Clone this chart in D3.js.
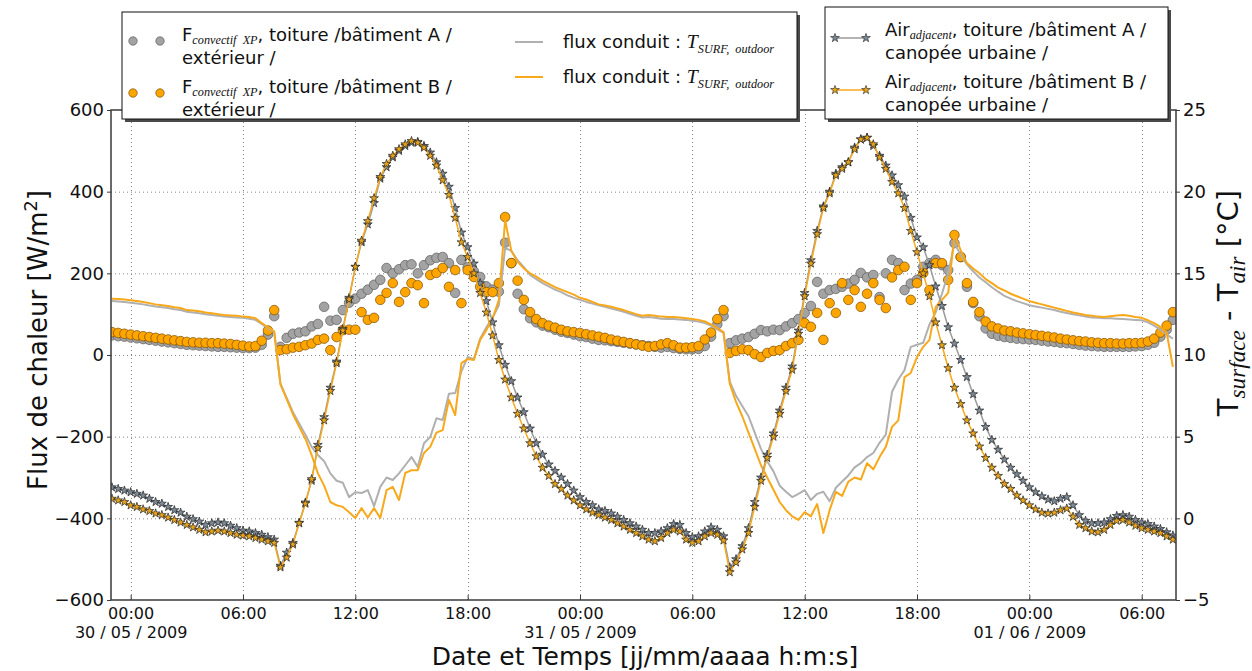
<!DOCTYPE html>
<html>
<head>
<meta charset="utf-8">
<script src="https://cdn.jsdelivr.net/npm/d3@7"></script>
<style>
  body { margin: 0; background: #fff; }
  text { font-family: "DejaVu Sans", sans-serif; fill: #111; white-space: pre; }
  .math { font-family: "Liberation Serif", serif; font-style: italic; }
</style>
</head>
<body>
<svg id="chart" width="1252" height="671"></svg>
<script>
// samples every 20 min, first one 29/05/2009 23:00
const startTime = new Date(2009, 4, 29, 23, 0);
const stepMinutes = 20;

// F convectif XP, bâtiment A (W/m2)
const circA = [
  48, 46, 45, 43, 41, 39, 37, 35, 33, 31, 29, 27, 25, 24, 23, 22, 21, 20, 20, 19, 18, 17, 17, 18,
  25, 50, 95, 20, 42, 52, 55, 58, 70, 76, 118, 84, 86, 110, 128, 138, 150, 160, 172, 184, 213,
  200, 210, 220, 222, 200, 220, 232, 238, 240, 225, 152, 233, 215, 205, 191, 168, 160, 155,
  275, 225, 150, 112, 90, 80, 72, 68, 62, 57, 54, 50, 46, 44, 40, 37, 36, 34, 32, 30, 28,
  26, 24, 22, 20, 18, 20, 17, 15, 14, 14, 15, 22, 45, 75, 95, 29, 36, 40, 44, 52, 61,
  58, 62, 61, 70, 78, 88, 103, 120, 179, 150, 159, 162, 167, 175, 184, 201, 190, 196,
  142, 200, 233, 225, 159, 175, 184, 216, 225, 233, 220, 208, 274, 240, 167, 127, 95, 65,
  52, 47, 44, 42, 40, 39, 38, 37, 35, 33, 32, 30, 29, 27, 25, 23, 22, 21, 20, 20, 20,
  20, 20, 21, 22, 25, 30, 45, 62, 86
];
// F convectif XP, bâtiment B (W/m2)
const circB = [
  56, 54, 52, 50, 48, 46, 44, 42, 40, 38, 36, 34, 32, 31, 30, 30, 29, 29, 28, 27, 25, 23, 21, 22,
  35, 60, 110, 12, 14, 18, 20, 24, 28, 37, 40, 12, 44, 61, 62, 62, 105, 86, 91, 135, 152,
  176, 130, 154, 176, 171, 127, 196, 201, 213, 167, 208, 127, 208, 191, 167, 154, 154, 176,
  338, 225, 182, 135, 105, 88, 78, 72, 67, 62, 58, 56, 54, 51, 48, 45, 42, 38, 35, 32, 29,
  26, 23, 20, 22, 26, 29, 24, 18, 18, 19, 22, 38, 55, 88, 110, 5, 10, 14, 12, 2, -5,
  5, 10, 12, 22, 29, 37, 78, 69, 103, 37, 127, 103, 176, 135, 159, 118, 150, 176,
  135, 115, 190, 208, 216, 135, 176, 201, 159, 225, 225, 184, 294, 240, 176, 130, 105, 82,
  70, 65, 60, 58, 55, 53, 51, 49, 47, 45, 43, 40, 38, 36, 34, 33, 31, 30, 29, 29, 28,
  28, 29, 29, 30, 33, 40, 55, 72, 105
];
// flux conduit, bâtiment A (W/m2)
const condA = [
  132, 131, 130, 128, 126, 124, 121, 119, 117, 115, 112, 110, 106, 104, 102, 100, 98, 96,
  94, 93, 92, 91, 89, 86, 76, 66, 56, -70, -105, -140, -168, -195, -225, -245, -260, -290,
  -308, -313, -348, -336, -338, -331, -370, -323, -300, -306, -290, -270, -250, -274, -216,
  -201, -155, -159, -95, -93, -40, -5, -10, 40, 68, 92, 122, 262, 255, 232, 215, 196, 186,
  176, 168, 160, 154, 146, 140, 135, 130, 126, 122, 118, 114, 110, 106, 101, 96, 92, 93,
  91, 89, 88, 88, 87, 86, 84, 82, 78, 72, 63, 54, -65, -100, -125, -150, -190, -230,
  -260, -285, -320, -335, -348, -340, -331, -355, -340, -335, -358, -325, -310, -295, -275,
  -265, -250, -240, -215, -195, -90, -60, -37, 20, 25, 30, 75, 105, 150, 200, 274, 245, 222,
  205, 190, 178, 166, 155, 145, 138, 132, 127, 122, 119, 116, 113, 110, 106, 103, 100, 97,
  94, 92, 91, 90, 90, 89, 88, 87, 86, 85, 80, 72, 62, 50, 40
];
// flux conduit, bâtiment B (W/m2)
const condB = [
  138, 137, 136, 134, 132, 130, 127, 124, 122, 120, 117, 115, 110, 109, 107, 104, 102, 100,
  98, 97, 96, 94, 93, 90, 78, 68, 58, -72, -108, -145, -176, -205, -245, -290, -320, -360,
  -368, -372, -385, -399, -375, -398, -375, -399, -331, -323, -355, -289, -282, -282, -240,
  -225, -190, -184, -110, -147, -20, -10, -12, 37, 61, 90, 135, 330, 255, 228, 212, 200, 192,
  182, 174, 166, 160, 154, 148, 140, 136, 130, 124, 121, 118, 114, 110, 105, 100, 96, 98,
  96, 94, 93, 93, 92, 90, 88, 86, 82, 75, 66, 56, -70, -115, -150, -190, -230, -270,
  -300, -330, -360, -380, -395, -404, -385, -395, -365, -436, -380, -335, -345, -310, -300,
  -305, -265, -280, -250, -225, -176, -160, -54, -44, -5, 20, 37, 118, 135, 152, 294, 257, 225,
  212, 200, 186, 176, 165, 158, 150, 144, 138, 132, 128, 124, 120, 116, 112, 108, 104, 101,
  98, 96, 94, 93, 95, 97, 98, 96, 93, 91, 85, 78, 69, 55, -29
];
// air adjacent, bâtiment A (°C, axe de droite)
const airA = [
  1.9, 1.8, 1.7, 1.6, 1.5, 1.4, 1.2, 1.0, 0.9, 0.7, 0.5, 0.35, 0.1, -0.05, -0.2,
  -0.4, -0.3, -0.25, -0.3, -0.45, -0.6, -0.75, -0.8, -0.9, -1.0, -1.15, -1.3,
  -2.9, -2.1, -1.5, -0.27, 0.97, 2.3, 4.5, 6.2, 8.0, 9.6, 11.6, 13.5, 15.4, 16.9, 18.0,
  19.3, 20.8, 21.5, 22.1, 22.5, 22.8, 23.0, 23.05, 22.8, 22.4, 21.8, 21.1, 20.3, 19.0, 17.5,
  16.6, 15.6, 14.4, 13.3, 12.0, 10.6, 9.4, 8.4, 7.4, 6.5, 5.5, 4.6, 3.9, 3.3, 2.9,
  2.5, 2.1, 1.7, 1.3, 1.0, 0.8, 0.55, 0.45, 0.3, 0.1, -0.1, -0.3, -0.5, -0.7, -0.9,
  -0.9, -0.8, -0.6, -0.35, -0.4, -0.9, -1.15, -1.1, -0.8, -0.55, -0.7, -1.1,
  -3.0, -2.5, -1.7, -0.6, 1.0, 2.5, 3.9, 5.2, 6.6, 8.0, 9.3, 11.5, 13.8, 15.8, 17.6,
  19.1, 20.0, 21.1, 21.5, 21.8, 22.7, 23.2, 23.3, 22.8, 22.2, 21.6, 21.0, 20.4, 19.7, 18.4,
  17.2, 16.6, 15.5, 14.2, 13.0, 11.7, 10.7, 9.7, 8.65, 7.6, 6.6, 5.6, 4.8, 4.2, 3.6,
  3.1, 2.7, 2.3, 1.9, 1.6, 1.35, 1.15, 1.05, 1.2, 1.3, 0.8, 0.2, -0.15, -0.3, -0.3,
  -0.25, -0.05, 0.15, 0.2, 0.1, -0.1, -0.25, -0.35, -0.5, -0.65, -0.85, -1.05
];
// air adjacent, bâtiment B (°C, axe de droite)
const airB = [
  1.2, 1.1, 1.0, 0.8, 0.7, 0.55, 0.45, 0.3, 0.2, 0.05, -0.1, -0.25, -0.4, -0.55, -0.7,
  -0.85, -0.8, -0.75, -0.8, -0.9, -1.0, -1.05, -1.1, -1.2, -1.3, -1.4, -1.5,
  -3.0, -2.4, -1.6, -0.3, 0.9, 2.4, 4.3, 6.0, 7.8, 9.5, 11.5, 13.4, 15.4, 17.0, 18.2,
  19.6, 20.9, 21.7, 22.2, 22.6, 22.9, 23.1, 23.0, 22.7, 22.2, 21.6, 20.7, 19.8, 18.4, 16.9,
  16.0, 15.0, 13.8, 12.6, 11.2, 9.7, 8.5, 7.4, 6.4, 5.5, 4.6, 3.8, 3.1, 2.6, 2.1,
  1.8, 1.4, 1.1, 0.8, 0.55, 0.35, 0.2, 0.05, -0.1, -0.3, -0.5, -0.7, -0.9, -1.1, -1.3,
  -1.4, -1.2, -0.9, -0.7, -0.8, -1.3, -1.5, -1.4, -1.1, -0.9, -1.0, -1.35,
  -3.3, -2.7, -1.9, -0.9, 0.7, 2.3, 3.7, 5.0, 6.4, 7.8, 9.1, 11.3, 13.6, 15.6, 17.4,
  19.0, 19.9, 21.0, 21.4, 21.8, 22.6, 23.2, 23.3, 22.9, 22.1, 21.4, 20.6, 19.9, 19.0, 17.6,
  16.3, 15.0, 13.6, 12.0, 10.6, 9.2, 8.0, 7.0, 6.0, 5.2, 4.4, 3.7, 3.1, 2.6, 2.1,
  1.8, 1.4, 1.1, 0.8, 0.55, 0.35, 0.3, 0.35, 0.5, 0.6, 0.1, -0.4, -0.6, -0.8, -0.85,
  -0.7, -0.4, -0.15, -0.1, -0.25, -0.45, -0.6, -0.7, -0.8, -0.9, -1.1, -1.3
];

const fluxTicks = [-600, -400, -200, 0, 200, 400, 600];
const tempTicks = [-5, 0, 5, 10, 15, 20, 25];

const times = circA.map((d, i) => d3.timeMinute.offset(startTime, i * stepMinutes));

const svg = d3.select("#chart");
const pL = 111, pR = 1176, pT = 110, pB = 600;

const x = d3.scaleTime()
  .domain([new Date(2009, 4, 29, 22, 57), new Date(2009, 5, 1, 7, 50)])
  .range([pL, pR]);
const yL = d3.scaleLinear().domain([-600, 600]).range([pB, pT]);
const yR = d3.scaleLinear().domain([-5, 25]).range([pB, pT]);

svg.append("defs").append("clipPath").attr("id", "plot")
  .append("rect").attr("x", pL).attr("y", pT)
  .attr("width", pR - pL).attr("height", pB - pT);

const xTicks = d3.timeHour.every(6).range(new Date(2009, 4, 30, 0), new Date(2009, 5, 1, 7));

// grid
const grid = svg.append("g").attr("stroke", "#888").attr("stroke-width", 1)
  .attr("stroke-dasharray", "1,3");
grid.selectAll(".gy").data(fluxTicks.slice(1, -1)).enter().append("line")
  .attr("x1", pL).attr("x2", pR)
  .attr("y1", d => yL(d) + 0.5).attr("y2", d => yL(d) + 0.5);
grid.selectAll(".gx").data(xTicks).enter().append("line")
  .attr("x1", d => Math.round(x(d)) + 0.5).attr("x2", d => Math.round(x(d)) + 0.5)
  .attr("y1", pT).attr("y2", pB);

const plot = svg.append("g").attr("clip-path", "url(#plot)");

function dots(values, fill, stroke) {
  plot.append("g").selectAll("circle").data(values).enter().append("circle")
    .attr("cx", (d, i) => x(times[i]))
    .attr("cy", d => yL(d))
    .attr("r", 4.8)
    .attr("fill", fill)
    .attr("stroke", stroke)
    .attr("stroke-width", 0.7);
}
dots(circA, "#a3a3a3", "#5c5c5c");
dots(circB, "#ffa500", "#7a4e00");

function curve(values, scale, color, width) {
  plot.append("path").datum(values)
    .attr("fill", "none").attr("stroke", color).attr("stroke-width", width)
    .attr("stroke-linejoin", "round")
    .attr("d", d3.line().x((d, i) => x(times[i])).y(d => scale(d)));
}
curve(condA, yL, "#b0b0b0", 2);
curve(condB, yL, "#f7a81b", 2);

const star = d3.symbol().type(d3.symbolStar).size(24);
function stars(values, line, fill) {
  curve(values, yR, line, 1.5);
  plot.append("g").selectAll("path").data(values).enter().append("path")
    .attr("transform", (d, i) => `translate(${x(times[i])},${yR(d)})`)
    .attr("d", star)
    .attr("fill", fill).attr("stroke", "#222").attr("stroke-width", 0.7);
}
stars(airA, "#9a9a9a", "#7d8a98");
stars(airB, "#f7a81b", "#e8a317");

// spines
svg.append("rect").attr("x", pL).attr("y", pT)
  .attr("width", pR - pL).attr("height", pB - pT)
  .attr("fill", "none").attr("stroke", "#3a3a3a").attr("stroke-width", 1.5);

// axes
const axL = svg.append("g").attr("transform", `translate(${pL},0)`)
  .call(d3.axisLeft(yL).tickValues(fluxTicks).tickSize(4).tickPadding(3));
const axR = svg.append("g").attr("transform", `translate(${pR},0)`)
  .call(d3.axisRight(yR).tickValues(tempTicks).tickSize(4).tickPadding(3));
[axL, axR].forEach(a => {
  a.select(".domain").remove();
  a.selectAll("line").attr("stroke", "#3a3a3a");
  a.selectAll("text").attr("font-size", 18).attr("font-family", "DejaVu Sans").attr("fill", "#111");
});

const axB = svg.append("g").attr("transform", `translate(0,${pB})`)
  .call(d3.axisBottom(x).tickValues(xTicks).tickSize(-5).tickPadding(8)
    .tickFormat(d3.timeFormat("%H:%M")));
axB.select(".domain").remove();
axB.selectAll("line").attr("stroke", "#3a3a3a");
axB.selectAll("text").attr("font-size", 16).attr("font-family", "DejaVu Sans").attr("fill", "#111");
axB.selectAll(".tick").filter(d => d.getHours() === 0).append("text")
  .attr("y", 38).attr("fill", "#111").attr("font-size", 16)
  .attr("font-family", "DejaVu Sans").attr("text-anchor", "middle")
  .text(d3.timeFormat("%d / %m / %Y"));

// rich text helper: parts = plain strings or {sub}/{sup}/{math}
function rich(sel, parts, base, subScale, subDrop) {
  let back = 0;
  parts.forEach(p => {
    if (typeof p === "string") {
      sel.append("tspan").attr("dy", back || null).text(p);
      back = 0;
    } else {
      const shift = p.sub ? base * (subDrop || 0.25) : (p.sup ? -base * 0.4 : 0);
      const t = sel.append("tspan").attr("dy", (shift + back) || null).text(p.sub || p.sup || p.math);
      if (p.sub || p.sup) t.attr("font-size", base * (subScale || 0.68));
      if (p.math || p.sub) t.attr("class", "math");
      if (p.big) t.attr("font-size", base * 1.1);
      back = -shift;
    }
  });
}

// axis titles
const tl = svg.append("text").attr("text-anchor", "middle").attr("font-size", 26)
  .attr("transform", "translate(47,340) rotate(-90)");
rich(tl, ["Flux de chaleur [W/m", { sup: "2" }, "]"], 26);

const tr = svg.append("text").attr("text-anchor", "middle").attr("font-size", 29)
  .attr("transform", "translate(1238,303) rotate(-90)");
rich(tr, ["T", { sub: "surface" }, " - T", { sub: "air" }, " [°C]"], 29, 0.8);

svg.append("text").attr("x", 645).attr("y", 665).attr("text-anchor", "middle")
  .attr("font-size", 25).text("Date et Temps [jj/mm/aaaa h:m:s]");

// legends
function box(x0, y0, w, h) {
  svg.append("rect").attr("x", x0 + 3).attr("y", y0 + 3).attr("width", w).attr("height", h)
    .attr("fill", "#4a4a4a");
  svg.append("rect").attr("x", x0).attr("y", y0).attr("width", w).attr("height", h)
    .attr("fill", "#fff").attr("stroke", "#111").attr("stroke-width", 1);
}
box(122, 12, 675, 107);
box(825, 7, 343, 112);

const fs = 18;
function label(x0, y0, parts, drop) {
  const t = svg.append("text").attr("x", x0).attr("y", y0).attr("font-size", fs);
  rich(t, parts, fs, 0.68, drop);
}

[["#a3a3a3", "#5c5c5c", 41, "A"], ["#ffa500", "#7a4e00", 93, "B"]].forEach(r => {
  [133, 160].forEach(cx => svg.append("circle").attr("cx", cx).attr("cy", r[2]).attr("r", 4.2)
    .attr("fill", r[0]).attr("stroke", r[1]).attr("stroke-width", 0.7));
  label(182, r[2], ["F", { sub: "convectif  XP" }, `, toiture /bâtiment ${r[3]} /`], 0.15);
  label(182, r[2] + 23, ["extérieur /"]);
});

[["#b0b0b0", 42], ["#f7a81b", 77]].forEach(r => {
  svg.append("line").attr("x1", 515).attr("x2", 543).attr("y1", r[1]).attr("y2", r[1])
    .attr("stroke", r[0]).attr("stroke-width", 2);
  label(563, r[1] + 6, ["flux conduit : ", { math: "T", big: true }, { sub: "SURF,  outdoor" }]);
});

[["#9a9a9a", "#7d8a98", 38, "A"], ["#f7a81b", "#e8a317", 90, "B"]].forEach(r => {
  svg.append("line").attr("x1", 835).attr("x2", 866).attr("y1", r[2]).attr("y2", r[2])
    .attr("stroke", r[0]).attr("stroke-width", 1.5);
  [835, 866].forEach(sx => svg.append("path").attr("d", star)
    .attr("transform", `translate(${sx},${r[2]})`)
    .attr("fill", r[1]).attr("stroke", "#222").attr("stroke-width", 0.6));
  label(885, r[2] - 2, ["Air", { sub: "adjacent" }, `, toiture /bâtiment ${r[3]} /`], 0.15);
  label(885, r[2] + 21, ["canopée urbaine /"]);
});
</script>
</body>
</html>
